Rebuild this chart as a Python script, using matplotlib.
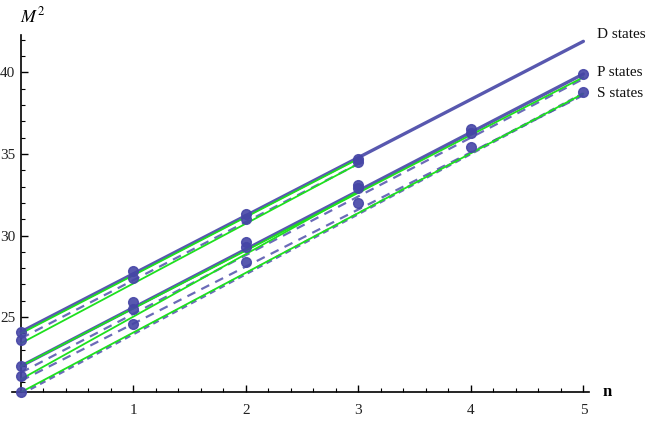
import matplotlib.pyplot as plt
import numpy as np

# fitted lines: (n start, n end, M^2 start, M^2 end)
d_fit = [0, 5, 24.1, 41.9]
p_fit = [0, 5, 22.0, 39.9]
s_fit = [0, 5, 20.3, 38.7]

d_dash = [0, 3, 23.7, 34.4]
p_dash = [0, 5, 21.6, 39.6]
s_dash = [0, 5, 21.1, 38.6]

d_green = [[0, 3, 24.0, 34.7], [0, 3, 23.4, 34.4]]
p_green = [[0, 5, 22.0, 39.7], [0, 3, 21.2, 32.7]]
s_green = [[0, 5, 20.4, 38.7]]

# data points
d_n = [0, 0, 1, 1, 2, 2, 3, 3]
d_m2 = [24.1, 23.6, 27.8, 27.4, 31.3, 31.0, 34.7, 34.5]
p_n = [0, 0, 1, 1, 2, 2, 3, 3, 4, 4, 5]
p_m2 = [22.0, 21.4, 25.9, 25.5, 29.6, 29.3, 33.1, 32.9, 36.5, 36.3, 39.9]
s_n = [0, 1, 2, 3, 4, 5]
s_m2 = [20.4, 24.6, 28.4, 32.0, 35.4, 38.8]

labels = ["D states", "P states", "S states"]
label_y = [42.3, 40.0, 38.7]

blue = '#4646a6'
green = '#1ee01e'
plt.rcParams['font.family'] = 'Liberation Serif'

fig = plt.figure(figsize=(6.64, 4.30), dpi=100)
ax = fig.add_axes([12/664, 38.3/430, 577/664, 356.9/430])
ax.set_xlim(-0.08, 5.05)
ax.set_ylim(20.43, 42.3)

def seg(f, **kw):
    ax.plot([f[0], f[1]], [f[2], f[3]], solid_capstyle='round', **kw)

for f in [d_fit, p_fit]:
    seg(f, color=blue, lw=2.4, alpha=0.9, zorder=3)
seg(s_fit, color=blue, lw=2.2, ls=(0, (2, 1.5)), alpha=0.8, zorder=3)
for f in [d_dash, p_dash, s_dash]:
    seg(f, color=blue, lw=1.6, ls=(0, (4, 3)), alpha=0.8, zorder=2)
for g in [d_green, p_green, s_green]:
    for f in g:
        seg(f, color=green, lw=1.3, zorder=4)

for n, m in [(d_n, d_m2), (p_n, p_m2), (s_n, s_m2)]:
    ax.plot(n, m, 'o', color=blue, ms=7, alpha=0.9, zorder=5, clip_on=False)

for t, y in zip(labels, label_y):
    ax.text(5.12, y, t, fontsize=11, va='center', ha='left', color='#111111')

ax.spines['top'].set_visible(False)
ax.spines['right'].set_visible(False)
ax.spines['left'].set_position(('data', 0))
ax.spines['left'].set_linewidth(1.2)
ax.spines['bottom'].set_linewidth(1.2)

ax.set_xticks([1, 2, 3, 4, 5])
ax.set_xticks(np.arange(0.2, 5.05, 0.2), minor=True)
ax.set_yticks([25, 30, 35, 40])
ax.set_yticks(np.arange(21, 43, 1), minor=True)
ax.tick_params(direction='in', length=5, width=1, labelsize=11, labelcolor='#222222')
ax.tick_params(which='minor', direction='in', length=3, width=0.8)
ax.tick_params(axis='x', pad=9)
ax.tick_params(axis='y', pad=4)

fig.text(20/664, 1 - 16/430, '$M^2$', fontsize=13, ha='left', va='center',
         family='Liberation Serif', math_fontfamily='stix')
fig.text(607/664, 1 - 392/430, 'n', fontsize=12, ha='center', va='center',
         fontweight='bold')

fig.savefig('out.png', dpi=100)
